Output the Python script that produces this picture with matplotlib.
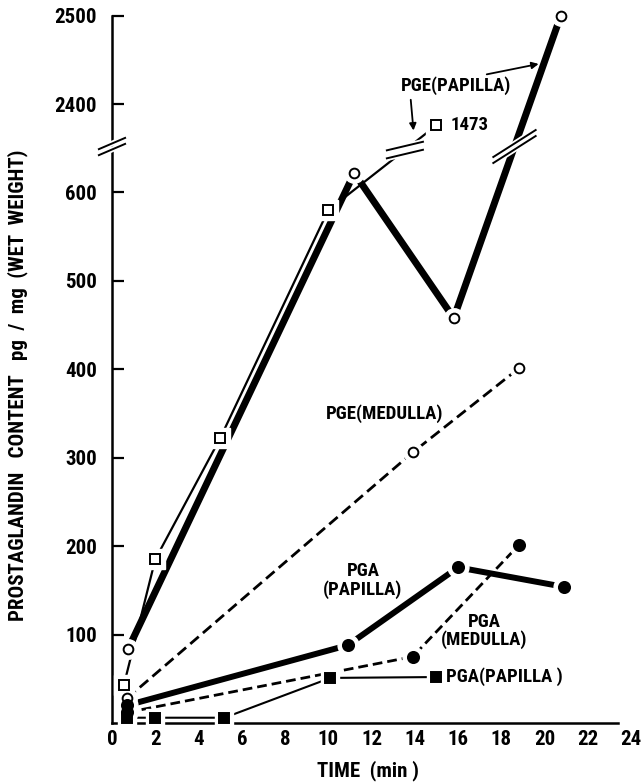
import numpy as np
import matplotlib
matplotlib.use('Agg')
import matplotlib.pyplot as plt
import matplotlib.transforms as mtransforms
import matplotlib.patheffects as pe

plt.rcParams['font.family'] = ['Roboto Condensed', 'Roboto', 'DejaVu Sans']
plt.rcParams['font.weight'] = 'heavy'

# --- DADES --- #
# PGE (papil·la), experiment amb quadrats oberts (línia fina)
pge_pap_sq_t = [0.55, 2.0, 5.0, 10.0, 15.0]
pge_pap_sq_v = [43, 185, 322, 580, 1473]
# PGE (papil·la), experiment amb cercles oberts (línia gruixuda)
pge_pap_ci_t = [0.75, 11.2, 15.8, 20.75]
pge_pap_ci_v = [84, 622, 458, 2500]
# PGE (medul·la)
pge_med_t = [0.7, 13.9, 18.8]
pge_med_v = [28, 306, 401]
# PGA (papil·la), cercles plens
pga_pap_t = [0.7, 10.9, 16.0, 20.9]
pga_pap_v = [20, 88, 176, 154]
# PGA (medul·la)
pga_med_t = [0.7, 13.9, 18.8]
pga_med_v = [12, 75, 201]
# PGA (papil·la), quadrats plens
pga_pap2_t = [0.7, 2.0, 5.2, 10.1, 15.0]
pga_pap2_v = [6, 6, 6, 51, 52]

x_ticks = list(range(0, 25, 2))
y_ticks = [100, 200, 300, 400, 500, 600, 2400, 2500]

# --- EIX TRENCAT --- #
BREAK = 652
def to_axis(v):
    '''Passa valors reals a la posició de l'eix trencat'''
    v = np.asarray(v, dtype=float)
    return np.where(v >= 2300, v - 1700, np.where(v > BREAK, BREAK + 24, v))

fig = plt.figure(figsize=(6.44, 7.83), dpi=100)
ax = fig.add_axes([0.1739, 0.0766, 0.8061, 0.9147])

def serie(t, v, ls='-', lw=1.4, marker='o', filled=False, ms=7, dashes=None):
    y = to_axis(v)
    line, = ax.plot(t, y, color='black', lw=lw, ls=ls, solid_capstyle='butt',
                    zorder=2, clip_on=False)
    if dashes is not None:
        line.set_dashes(dashes)
    ax.plot(t, y, ls='none', marker=marker, ms=ms + 7, mfc='white', mec='white',
            zorder=3, clip_on=False)
    ax.plot(t, y, ls='none', marker=marker, ms=ms, mfc='black' if filled else 'white',
            mec='black', mew=1.4, zorder=4, clip_on=False)

serie(pge_pap_sq_t, pge_pap_sq_v, lw=1.6, marker='s', ms=7)
serie(pge_pap_ci_t, pge_pap_ci_v, lw=5, marker='o', ms=7)
serie(pge_med_t, pge_med_v, lw=2, marker='o', ms=7, dashes=(4, 2))
serie(pga_pap_t, pga_pap_v, lw=4.3, marker='o', filled=True, ms=8)
serie(pga_med_t, pga_med_v, lw=2, marker='o', filled=True, ms=8, dashes=(3.5, 1.8))
serie(pga_pap2_t, pga_pap2_v, lw=1.5, marker='s', filled=True, ms=6.5)

# marques de trencament (mides en píxels)
def break_mark(x, y, w, h, sep, band=False):
    tr = fig.dpi_scale_trans + mtransforms.ScaledTranslation(x, y, ax.transData)
    xs = np.array([-w / 2, w / 2]) / 100
    ys = np.array([-h / 2, h / 2]) / 100
    if band:
        ax.fill([xs[0], xs[1], xs[1], xs[0]],
                [ys[0] - sep / 200, ys[1] - sep / 200, ys[1] + sep / 200, ys[0] + sep / 200],
                color='white', transform=tr, zorder=5, clip_on=False)
    for s in (-sep / 2, sep / 2):
        ax.plot(xs, ys + s / 100, color='black', lw=1.4, transform=tr, zorder=6,
                clip_on=False, solid_capstyle='butt',
                path_effects=[pe.Stroke(linewidth=4, foreground='white'), pe.Normal()])

break_mark(0, BREAK, 28, 12, 6)
y_ci = to_axis(pge_pap_ci_v)
t_thick = np.interp(BREAK, [y_ci[2], y_ci[3]], [pge_pap_ci_t[2], pge_pap_ci_t[3]])
break_mark(t_thick, BREAK, 44, 28, 6)
y_sq = to_axis(pge_pap_sq_v)
t_thin = np.interp(BREAK - 4, [y_sq[3], y_sq[4]], [pge_pap_sq_t[3], pge_pap_sq_t[4]])
break_mark(t_thin, BREAK - 4, 38, 9, 8, band=True)

# --- TEXTOS --- #
fs = 13.5
ax.annotate('1473', (pge_pap_sq_t[4], y_sq[4]), xytext=(10, 0), textcoords='offset points',
            ha='left', va='center', fontsize=fs)
ax.text(15.9, 721, 'PGE(PAPILLA)', ha='center', va='center', fontsize=fs)
ax.annotate('', xy=(19.85, 746), xytext=(17.2, 733),
            arrowprops=dict(arrowstyle='-|>', color='black', lw=1.3, mutation_scale=10))
ax.annotate('', xy=(13.95, 667), xytext=(13.8, 708),
            arrowprops=dict(arrowstyle='-|>', color='black', lw=1.3, mutation_scale=10))
ax.text(12.6, 350, 'PGE(MEDULLA)', ha='center', va='center', fontsize=fs)
ax.text(11.6, 161, 'PGA\n(PAPILLA)', ha='center', va='center', fontsize=fs, linespacing=1.0)
ax.text(17.2, 104, 'PGA\n(MEDULLA)', ha='center', va='center', fontsize=fs, linespacing=1.0)
ax.annotate('PGA(PAPILLA )', (pga_pap2_t[4], to_axis(pga_pap2_v[4])), xytext=(7, 0),
            textcoords='offset points', ha='left', va='center', fontsize=fs)

# --- EIXOS --- #
ax.set_xlim(0, 24)
ax.set_ylim(0, 810)
ax.set_xticks(x_ticks)
ax.set_xticklabels([str(t) for t in x_ticks])
ax.set_yticks(to_axis(y_ticks))
ax.set_yticklabels([str(v) for v in y_ticks])
ax.tick_params(axis='x', length=0, pad=5, labelsize=15)
ax.tick_params(axis='y', direction='in', length=8.5, width=1.6, pad=11, labelsize=15)
for s in ['top', 'right']:
    ax.spines[s].set_visible(False)
ax.spines['left'].set_linewidth(1.8)
ax.spines['bottom'].set_linewidth(1.8)
ax.spines['left'].set_bounds(0, 800)
ax.spines['bottom'].set_bounds(0, 23.4)

fig.text(0.571, 0.003, 'TIME  (min )', ha='center', va='bottom', fontsize=15)
fig.text(0.028, 0.508, 'PROSTAGLANDIN   CONTENT   pg  /  mg  (WET  WEIGHT)',
         rotation=90, ha='center', va='center', fontsize=15)

fig.savefig('out.png', dpi=100)
